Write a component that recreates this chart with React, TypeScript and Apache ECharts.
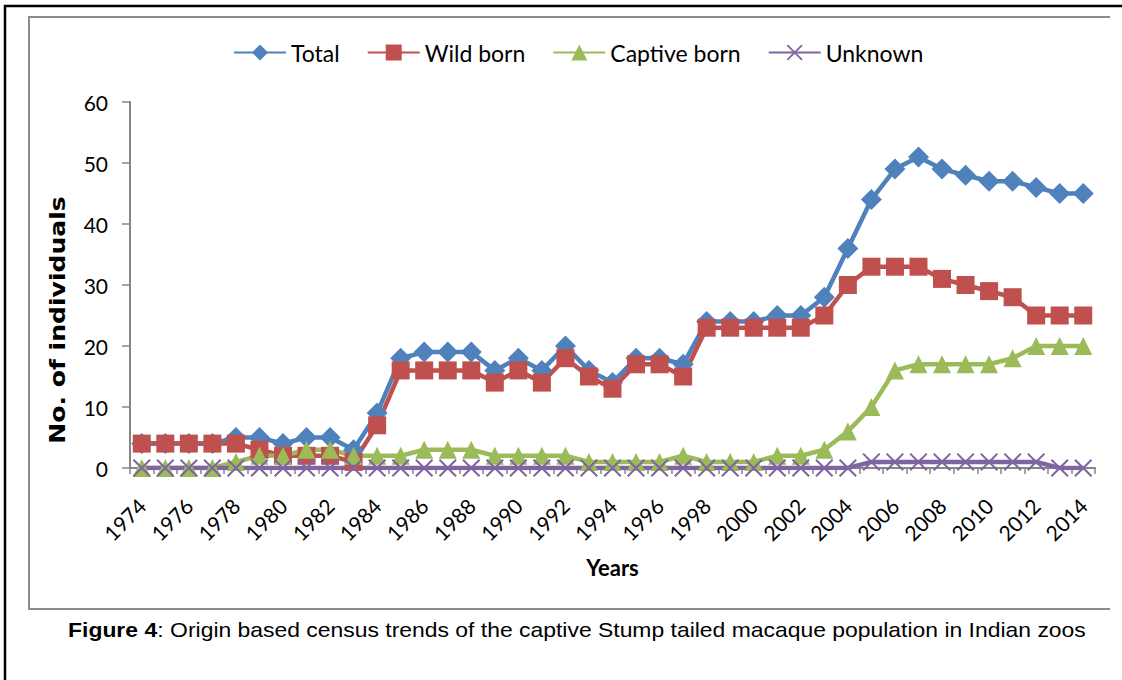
import React, { useEffect, useRef } from "react";
import * as echarts from "echarts";

const years: string[] = [
  "1974","1975","1976","1977","1978","1979","1980","1981","1982","1983",
  "1984","1985","1986","1987","1988","1989","1990","1991","1992","1993",
  "1994","1995","1996","1997","1998","1999","2000","2001","2002","2003",
  "2004","2005","2006","2007","2008","2009","2010","2011","2012","2013","2014",
];

const total: number[] = [
  4, 4, 4, 4, 5, 5, 4, 5, 5, 3,
  9, 18, 19, 19, 19, 16, 18, 16, 20, 16,
  14, 18, 18, 17, 24, 24, 24, 25, 25, 28,
  36, 44, 49, 51, 49, 48, 47, 47, 46, 45, 45,
];

const wildBorn: number[] = [
  4, 4, 4, 4, 4, 3, 2, 2, 2, 1,
  7, 16, 16, 16, 16, 14, 16, 14, 18, 15,
  13, 17, 17, 15, 23, 23, 23, 23, 23, 25,
  30, 33, 33, 33, 31, 30, 29, 28, 25, 25, 25,
];

const captiveBorn: number[] = [
  0, 0, 0, 0, 1, 2, 2, 3, 3, 2,
  2, 2, 3, 3, 3, 2, 2, 2, 2, 1,
  1, 1, 1, 2, 1, 1, 1, 2, 2, 3,
  6, 10, 16, 17, 17, 17, 17, 18, 20, 20, 20,
];

const unknown: number[] = [
  0, 0, 0, 0, 0, 0, 0, 0, 0, 0,
  0, 0, 0, 0, 0, 0, 0, 0, 0, 0,
  0, 0, 0, 0, 0, 0, 0, 0, 0, 0,
  0, 1, 1, 1, 1, 1, 1, 1, 1, 0, 0,
];

const seriesNames = ["Total", "Wild born", "Captive born", "Unknown"];
const colors = ["#4F81BD", "#C0504D", "#9BBB59", "#8064A2"];
const yAxisTitle = "No. of individuals";
const xAxisTitle = "Years";

const FONT = "Lato";
const X_SYMBOL =
  "path://M0,1.6L1.6,0L10,8.4L18.4,0L20,1.6L11.6,10L20,18.4L18.4,20L10,11.6L1.6,20L0,18.4L8.4,10Z";

export default function App() {
  const ref = useRef<HTMLDivElement>(null);

  useEffect(() => {
    if (!ref.current) return;
    const chart = echarts.init(ref.current, null, { renderer: "svg" });

    const mk = (
      name: string,
      data: number[],
      color: string,
      symbol: string,
      symbolSize: number | number[]
    ) => ({
      name,
      type: "line",
      data,
      symbol,
      symbolSize,
      showAllSymbol: true,
      lineStyle: { color, width: 4.5 },
      itemStyle: { color },
      emphasis: { disabled: true },
    });

    chart.setOption({
      animation: false,
      backgroundColor: "#ffffff",
      color: colors,
      legend: {
        data: seriesNames,
        top: 36,
        left: 228,
        itemWidth: 52,
        itemHeight: 20,
        itemGap: 27,
        textStyle: { fontSize: 23, fontFamily: FONT, color: "#000" },
      },
      grid: { left: 130, right: 27, top: 102, bottom: 212, containLabel: false },
      xAxis: {
        type: "category",
        data: years,
        boundaryGap: true,
        name: xAxisTitle,
        nameLocation: "middle",
        nameGap: 88,
        nameTextStyle: { fontSize: 22, fontWeight: "bold", fontFamily: FONT, color: "#000" },
        axisLine: { lineStyle: { color: "#868686", width: 2 } },
        axisTick: { show: true, interval: 0, length: 6, lineStyle: { color: "#868686", width: 1.5 } },
        axisLabel: {
          interval: 1,
          rotate: 45,
          margin: 34,
          fontSize: 21,
          fontFamily: FONT,
          color: "#000",
        },
        splitLine: { show: false },
      },
      yAxis: {
        type: "value",
        min: 0,
        max: 60,
        interval: 10,
        axisLine: { show: true, lineStyle: { color: "#868686", width: 2 } },
        axisTick: { show: true, length: 8, lineStyle: { color: "#868686", width: 1.5 } },
        axisLabel: { margin: 22, fontSize: 21, fontFamily: FONT, color: "#000" },
        splitLine: { show: false },
      },
      graphic: [
        {
          type: "polyline",
          shape: { points: [[1122, 6], [5, 6], [5, 680]] },
          style: { stroke: "#000", lineWidth: 2.5, fill: null },
          silent: true,
        },
        {
          type: "polyline",
          shape: { points: [[1110, 17], [29, 17], [29, 609], [1110, 609]] },
          style: { stroke: "#8c8c8c", lineWidth: 2, fill: null },
          silent: true,
        },
        {
          type: "text",
          x: 58,
          y: 320,
          rotation: Math.PI / 2,
          scaleX: 1.14,
          style: {
            text: yAxisTitle,
            fontFamily: "DejaVu Sans",
            fontWeight: "bold",
            fontSize: 22,
            fill: "#000",
            align: "center",
            verticalAlign: "middle",
          },
          silent: true,
        },
        {
          type: "text",
          x: 577,
          y: 630,
          scaleX: 1.146,
          style: {
            text: "{b|Figure 4}: Origin based census trends of the captive Stump tailed macaque population in Indian zoos",
            fontFamily: "Liberation Sans",
            fontSize: 20,
            fill: "#000",
            align: "center",
            verticalAlign: "middle",
            rich: {
              b: { fontWeight: "bold", fontFamily: "Liberation Sans", fontSize: 20, fill: "#000" },
            },
          },
          silent: true,
        },
      ],
      series: [
        mk(seriesNames[0], total, colors[0], "diamond", 21),
        mk(seriesNames[1], wildBorn, colors[1], "rect", 18),
        mk(seriesNames[2], captiveBorn, colors[2], "triangle", 18),
        mk(seriesNames[3], unknown, colors[3], X_SYMBOL, 18),
      ],
    });

    return () => chart.dispose();
  }, []);

  return (
    <div
      ref={ref}
      style={{ position: "fixed", left: 0, top: 0, width: 1122, height: 680, background: "#fff" }}
    />
  );
}
